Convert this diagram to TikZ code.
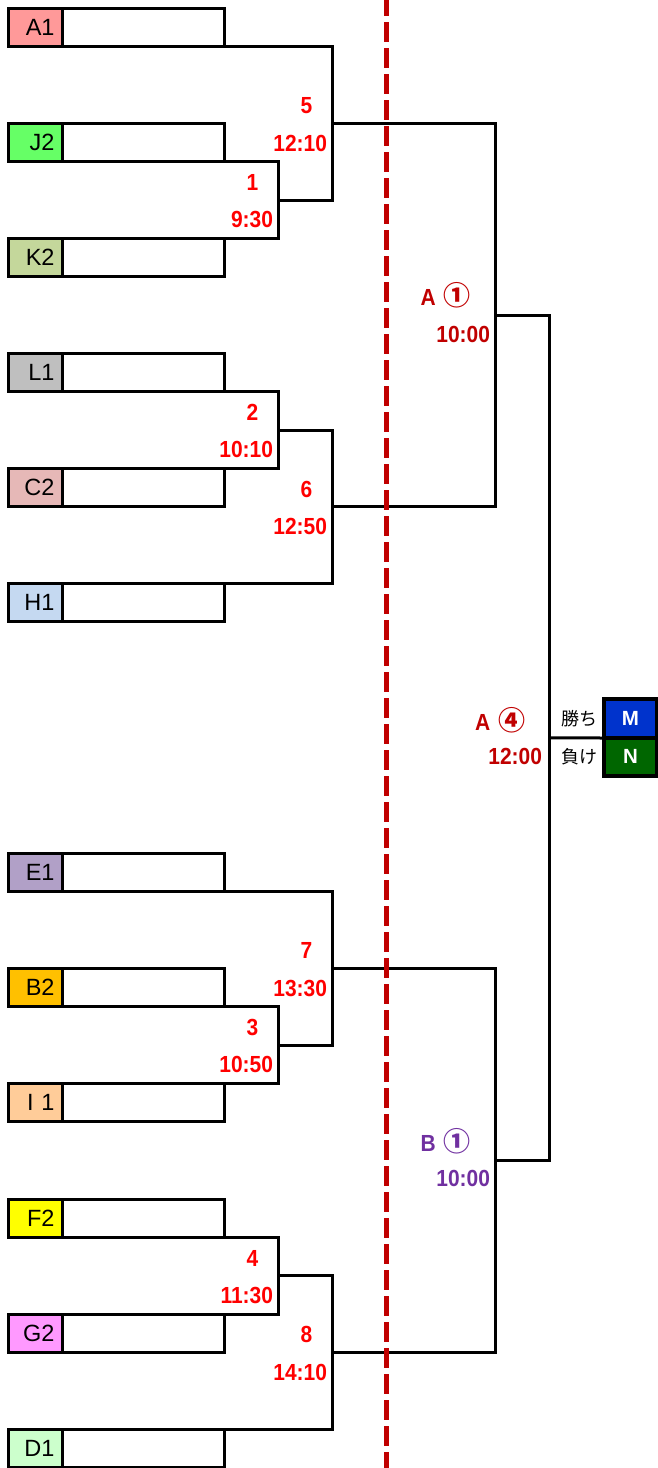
\documentclass[tikz,border=0pt]{standalone}
\usepackage{fontspec}
\setmainfont{Liberation Sans}
\newfontfamily\labfont[FakeStretch=0.9]{Liberation Sans}
\newfontfamily\cjkfont{Noto Sans CJK JP}
\definecolor{cA1}{HTML}{FF9999}
\definecolor{cJ2}{HTML}{66FF66}
\definecolor{cK2}{HTML}{C4D79B}
\definecolor{cL1}{HTML}{BFBFBF}
\definecolor{cC2}{HTML}{E6B8B7}
\definecolor{cH1}{HTML}{C5D9F1}
\definecolor{cE1}{HTML}{B1A0C7}
\definecolor{cB2}{HTML}{FFC000}
\definecolor{cI1}{HTML}{FFCC99}
\definecolor{cF2}{HTML}{FFFF00}
\definecolor{cG2}{HTML}{FF99FF}
\definecolor{cD1}{HTML}{CCFFCC}
\definecolor{mblue}{HTML}{0033CC}
\definecolor{ngreen}{HTML}{006600}
\definecolor{dred}{HTML}{C00000}
\definecolor{lred}{HTML}{FF0000}
\definecolor{bpurple}{HTML}{7030A0}
\begin{document}
\begin{tikzpicture}[x=1pt,y=-1pt,line width=3pt,
  teambox/.style={draw, line width=3pt, minimum width=216pt, minimum height=38pt, inner sep=0pt, outer sep=0pt, anchor=north west},
  teamcell/.style={draw, line width=3pt, minimum width=53.5pt, minimum height=38pt, inner sep=0pt, outer sep=0pt, anchor=north west, text width=38.5pt, align=right, font=\fontsize{23.5}{24}\selectfont},
  numlab/.style={inner sep=0pt, outer sep=0pt, text=lred, font=\labfont\bfseries\fontsize{23.3}{24}\selectfont},
  qlabfont/.style={inner sep=0pt, outer sep=0pt, font=\labfont\bfseries\fontsize{23.3}{24}\selectfont},
  mncell/.style={draw, line width=4.5pt, minimum width=53pt, inner sep=0pt, outer sep=0pt, text=white, font=\bfseries\fontsize{20.5}{21}\selectfont},
  jplab/.style={inner sep=0pt, outer sep=0pt, font=\cjkfont\fontsize{18}{19}\selectfont},
  dashline/.style={draw=dred, line width=5pt, dash pattern=on 20pt off 6pt, dash phase=4pt}]
\useasboundingbox (0,0) rectangle (657,1468);
% team boxes
\node[teambox] (A1) at (8.5,8.5) {};   \node[teamcell, fill=cA1] (A1c) at (8.5,8.5) {A1};
\node[teambox] (J2) at (8.5,123.5) {}; \node[teamcell, fill=cJ2] (J2c) at (8.5,123.5) {J2};
\node[teambox] (K2) at (8.5,238.5) {}; \node[teamcell, fill=cK2] (K2c) at (8.5,238.5) {K2};
\node[teambox] (L1) at (8.5,353.5) {}; \node[teamcell, fill=cL1] (L1c) at (8.5,353.5) {L1};
\node[teambox] (C2) at (8.5,468.5) {}; \node[teamcell, fill=cC2] (C2c) at (8.5,468.5) {C2};
\node[teambox] (H1) at (8.5,583.5) {}; \node[teamcell, fill=cH1] (H1c) at (8.5,583.5) {H1};
\node[teambox] (E1) at (8.5,853.7) {}; \node[teamcell, fill=cE1] (E1c) at (8.5,853.7) {E1};
\node[teambox] (B2) at (8.5,968.7) {}; \node[teamcell, fill=cB2] (B2c) at (8.5,968.7) {B2};
\node[teambox] (I1) at (8.5,1083.7) {}; \node[teamcell, fill=cI1] (I1c) at (8.5,1083.7) {I 1};
\node[teambox] (F2) at (8.5,1199) {}; \node[teamcell, fill=cF2] (F2c) at (8.5,1199) {F2};
\node[teambox] (G2) at (8.5,1314.5) {}; \node[teamcell, fill=cG2] (G2c) at (8.5,1314.5) {G2};
\node[teambox] (D1) at (8.5,1429.7) {}; \node[teamcell, fill=cD1] (D1c) at (8.5,1429.7) {D1};
% match points
\coordinate (m1) at (278.5,200);
\coordinate (m2) at (278.5,430);
\coordinate (m5) at (332.5,123.5);
\coordinate (m6) at (332.5,506.75);
\coordinate (qA) at (495.5,315.1);
\coordinate (m3) at (278.5,1045.2);
\coordinate (m4) at (278.5,1275.75);
\coordinate (m7) at (332.5,968.45);
\coordinate (m8) at (332.5,1352.7);
\coordinate (qB) at (495.5,1160.6);
\coordinate (fin) at (549.5,737.85);
% M / N
\node[mncell, fill=mblue, minimum height=39pt] (M) at (630.5,718.5) {M};
\node[mncell, fill=ngreen, minimum height=37.8pt] (N) at (630.5,756.9) {N};
% brackets
\draw (J2.south west) -| (m1) |- (K2.north west);
\draw (A1.south west) -| (m5) |- (m1);
\draw (L1.south west) -| (m2) |- (C2.north west);
\draw (m2) -| (m6) |- (H1.north west);
\draw (m5) -| (qA) |- (m6);
\draw (B2.south west) -| (m3) |- (I1.north west);
\draw (E1.south west) -| (m7) |- (m3);
\draw (F2.south west) -| (m4) |- (G2.north west);
\draw (m4) -| (m8) |- (D1.north west);
\draw (m7) -| (qB) |- (m8);
\draw (qA) -| (fin) |- (qB);
\draw (fin) -- (M.south west);
% dashed divider
\coordinate (dtop) at (386.5,0);
\coordinate (dbot) at (386.5,1468);
\draw[dashline] (dtop) -- (dbot);
% match labels
\node[numlab, anchor=south] (n1) at (252.5,190.5) {1};
\node[numlab, anchor=south east] (t1) at (273,228) {9:30};
\node[numlab, anchor=south] (n2) at (252.5,420.5) {2};
\node[numlab, anchor=south east] (t2) at (273,458) {10:10};
\node[numlab, anchor=south] (n5) at (306.5,114) {5};
\node[numlab, anchor=south east] (t5) at (327,151.5) {12:10};
\node[numlab, anchor=south] (n6) at (306.5,497.25) {6};
\node[numlab, anchor=south east] (t6) at (327,534.75) {12:50};
\node[numlab, anchor=south] (n3) at (252.5,1035.7) {3};
\node[numlab, anchor=south east] (t3) at (273,1073.2) {10:50};
\node[numlab, anchor=south] (n4) at (252.5,1266.25) {4};
\node[numlab, anchor=south east] (t4) at (273,1303.75) {11:30};
\node[numlab, anchor=south] (n7) at (306.5,958.95) {7};
\node[numlab, anchor=south east] (t7) at (327,996.45) {13:30};
\node[numlab, anchor=south] (n8) at (306.5,1343.2) {8};
\node[numlab, anchor=south east] (t8) at (327,1380.7) {14:10};
% semifinal / final labels
\node[qlabfont, text=dred, anchor=base west] (qAl) at (420.5,305) {A\hspace{8pt}{\cjkfont\bfseries\fontsize{27}{27}\selectfont ①}};
\node[qlabfont, text=dred, anchor=south east] (qAt) at (490,342.7) {10:00};
\node[qlabfont, text=dred, anchor=base west] (finl) at (475,730) {A\hspace{8pt}{\cjkfont\bfseries\fontsize{27}{27}\selectfont ④}};
\node[qlabfont, text=dred, anchor=south east] (fint) at (542,765) {12:00};
\node[qlabfont, text=bpurple, anchor=base west] (qBl) at (420.5,1151.7) {B\hspace{8pt}{\cjkfont\bfseries\fontsize{27}{27}\selectfont ①}};
\node[qlabfont, text=bpurple, anchor=south east] (qBt) at (490,1187) {10:00};
\node[jplab] (win) at (579,718.7) {勝ち};
\node[jplab] (lose) at (579,756.5) {負け};
\end{tikzpicture}
\end{document}
